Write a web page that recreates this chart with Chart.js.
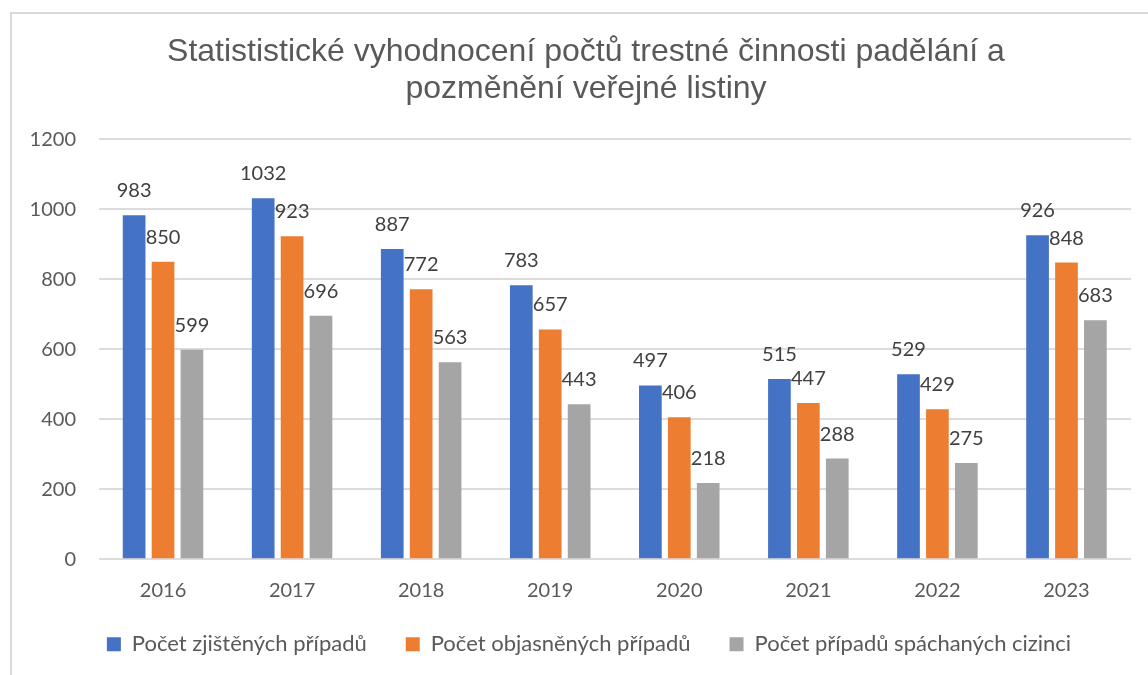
<!DOCTYPE html>
<html>
<head>
<meta charset="utf-8">
<script src="https://cdn.jsdelivr.net/npm/chart.js@4.4.1/dist/chart.umd.min.js"></script>
<style>
  html, body { margin: 0; padding: 0; background: #fff; }
  #ramecek { position: absolute; left: 10px; top: 12px; width: 1200px; height: 700px;
             border-left: 2px solid #d9d9d9; border-top: 2px solid #d9d9d9; }
  #obal { position: absolute; left: 0; top: 0; width: 1148px; height: 675px; }
</style>
</head>
<body>
<div id="ramecek"></div>
<div id="obal"><canvas id="graf" width="1148" height="675"></canvas></div>
<script>
const roky = ['2016', '2017', '2018', '2019', '2020', '2021', '2022', '2023'];
const zjistene = [983, 1032, 887, 783, 497, 515, 529, 926];
const objasnene = [850, 923, 772, 657, 406, 447, 429, 848];
const cizinci = [599, 696, 563, 443, 218, 288, 275, 683];
const nazvySerii = ['Počet zjištěných případů', 'Počet objasněných případů', 'Počet případů spáchaných cizinci'];
const titulek = ['Statististické vyhodnocení počtů trestné činnosti padělání a', 'pozměnění veřejné listiny'];

Chart.defaults.font.family = 'Lato';
Chart.defaults.color = '#595959';

// popisky hodnot nad sloupci
const popisky = {
    id: 'popisky',
    afterDatasetsDraw(chart) {
        const ctx = chart.ctx;
        ctx.save();
        ctx.font = '20px Lato';
        ctx.fillStyle = '#404040';
        ctx.textAlign = 'center';
        ctx.textBaseline = 'alphabetic';
        chart.data.datasets.forEach(function(ds, i) {
            chart.getDatasetMeta(i).data.forEach(function(bar, j) {
                ctx.fillText(ds.data[j], bar.x, bar.y - 18);
            });
        });
        ctx.restore();
    }
};

// doladeni polohy nadpisu a legendy jako v Excelu
const posun = {
    id: 'posun',
    afterLayout(chart) {
        const l = chart.legend, t = chart.titleBlock;
        l.left += 11; l.right += 11;
        l.top -= 5; l.bottom -= 5;
        t.left += 8; t.right += 8;
    }
};

const spolecne = { categoryPercentage: 0.672, barPercentage: 0.785, borderWidth: 0 };

var ctx = document.getElementById('graf').getContext('2d');
var graf = new Chart(ctx, {
    type: 'bar',
    data: {
        labels: roky,
        datasets: [
            Object.assign({ label: nazvySerii[0], data: zjistene, backgroundColor: '#4472C4' }, spolecne),
            Object.assign({ label: nazvySerii[1], data: objasnene, backgroundColor: '#ED7D31' }, spolecne),
            Object.assign({ label: nazvySerii[2], data: cizinci, backgroundColor: '#A5A5A5' }, spolecne)
        ]
    },
    options: {
        responsive: false,
        animation: false,
        layout: { padding: { left: 25, right: 17, top: 0, bottom: 4.7 } },
        plugins: {
            tooltip: { enabled: false },
            title: {
                display: true,
                text: titulek,
                color: '#595959',
                font: { family: 'Liberation Sans', size: 32, weight: 'normal', lineHeight: 1.17 },
                padding: { top: 33, bottom: 31.5 }
            },
            legend: {
                position: 'bottom',
                labels: {
                    boxWidth: 14,
                    boxHeight: 14,
                    padding: 39,
                    color: '#595959',
                    font: { size: 22 }
                }
            }
        },
        scales: {
            x: {
                grid: { display: false, drawTicks: false },
                border: { display: false },
                ticks: { font: { size: 20, lineHeight: 1 }, color: '#595959', padding: 21 },
                afterFit: function(scale) { scale.height = 40; }
            },
            y: {
                min: 0,
                max: 1200,
                ticks: {
                    stepSize: 200,
                    font: { size: 20 },
                    color: '#595959',
                    padding: 22.5,
                    callback: function(value) { return String(value); }
                },
                grid: { color: '#dcdcdc', lineWidth: 2, drawTicks: false },
                border: { display: false },
                afterFit: function(scale) { scale.width = 73.5; }
            }
        }
    },
    plugins: [popisky, posun]
});
</script>
</body>
</html>
